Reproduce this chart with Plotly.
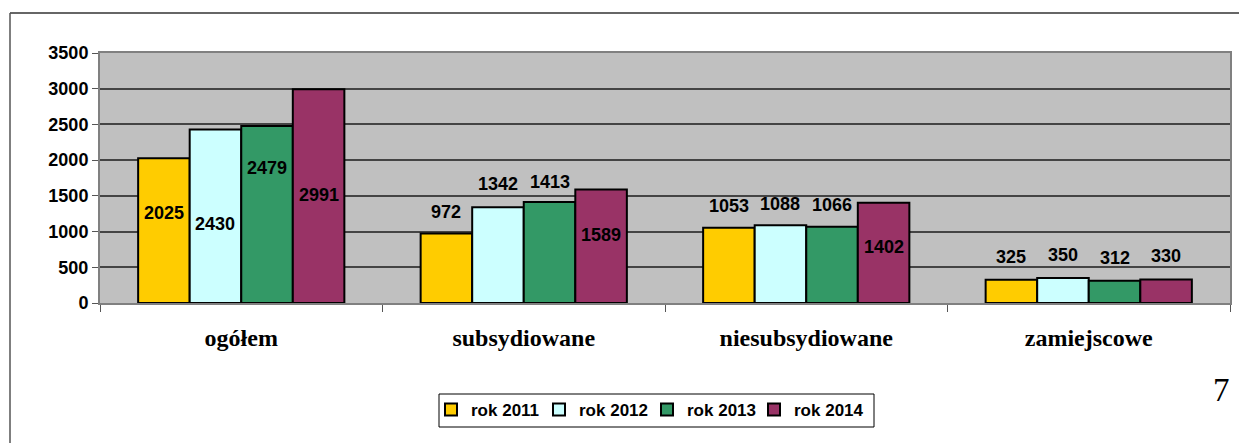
import plotly.graph_objects as go

categories = ["ogółem", "subsydiowane", "niesubsydiowane", "zamiejscowe"]
series_names = ["rok 2011", "rok 2012", "rok 2013", "rok 2014"]
v2011 = [2025, 972, 1053, 325]
v2012 = [2430, 1342, 1088, 350]
v2013 = [2479, 1413, 1066, 312]
v2014 = [2991, 1589, 1402, 330]
# vertical placement of the value labels (data units), as in the reference
lab2011 = [1260, 1274, 1358, 644]
lab2012 = [1106, 1666, 1386, 672]
lab2013 = [1890, 1694, 1372, 630]
lab2014 = [1512, 952, 784, 658]
y_ticks = [0, 500, 1000, 1500, 2000, 2500, 3000, 3500]

colors = ["#FFCC00", "#CCFFFF", "#339966", "#993366"]
values = [v2011, v2012, v2013, v2014]
labels_y = [lab2011, lab2012, lab2013, lab2014]

OFF = 8  # page body margin
W, H = 1247 - OFF, 443 - OFF
L, R, T, B = 100 - OFF, 17, 53 - OFF, 140
pw, ph = W - L - R, H - T - B


def px_to_paper_x(px):
    return (px - OFF - L) / pw


def px_to_paper_y(py):
    return (T + ph - (py - OFF)) / ph


legend_ids = ["legend", "legend2", "legend3", "legend4"]
legend_sym_px = [453, 561, 669, 776]  # legend anchor positions (layout)

fig = go.Figure()
for name, vals, col, lid in zip(series_names, values, colors, legend_ids):
    fig.add_trace(go.Bar(
        x=categories, y=vals, name=name, legend=lid,
        marker=dict(color=col, line=dict(color="black", width=2)),
    ))

bar_px = pw / len(categories) * (1 - 0.27) / len(series_names)
annotations = []
for si, (vals, ly) in enumerate(zip(values, labels_y)):
    shift = (si - (len(series_names) - 1) / 2) * bar_px
    for c, v, yy in zip(categories, vals, ly):
        annotations.append(dict(
            x=c, y=yy, xref="x", yref="y", text=str(v), showarrow=False,
            xshift=shift, font=dict(family="Liberation Sans, Arial", size=18, color="black", weight="bold"),
        ))

annotations.append(dict(
    x=px_to_paper_x(1232), y=px_to_paper_y(410), xref="paper", yref="paper",
    text="7", showarrow=False, font=dict(family="Liberation Serif, Times New Roman", size=33, color="black"),
))

legend_common = dict(
    orientation="h", yanchor="middle", xanchor="left",
    borderwidth=0, bgcolor="rgba(0,0,0,0)",
    font=dict(family="Liberation Sans, Arial", size=17, color="black", weight="bold"),
    itemwidth=30,
)
legends = {}
for lid, sx in zip(legend_ids, legend_sym_px):
    legends[lid] = dict(legend_common, x=px_to_paper_x(sx - 22), y=px_to_paper_y(410))

fig.update_layout(
    width=W, height=H,
    margin=dict(l=L, r=R, t=T, b=B),
    paper_bgcolor="white", plot_bgcolor="#C0C0C0",
    barmode="group", bargap=0.27, bargroupgap=0,
    showlegend=True,
    annotations=annotations,
    shapes=[
        dict(type="line", xref="paper", yref="paper",
             x0=px_to_paper_x(10), x1=px_to_paper_x(1247),
             y0=px_to_paper_y(13), y1=px_to_paper_y(13),
             line=dict(color="#333333", width=1.5)),
        dict(type="line", xref="paper", yref="paper",
             x0=px_to_paper_x(10), x1=px_to_paper_x(10),
             y0=px_to_paper_y(13), y1=px_to_paper_y(443),
             line=dict(color="#555555", width=1.5)),
        dict(type="rect", xref="paper", yref="paper",
             x0=px_to_paper_x(439), x1=px_to_paper_x(874),
             y0=px_to_paper_y(394), y1=px_to_paper_y(427),
             line=dict(color="black", width=1), fillcolor="rgba(0,0,0,0)"),
    ],
    **legends,
)

fig.update_xaxes(
    type="category", showgrid=False,
    showline=True, linecolor="#808080", linewidth=2, mirror=True,
    ticks="outside", tickson="boundaries", ticklen=7, tickcolor="#555555",
    tickfont=dict(family="Liberation Serif, Times New Roman", size=24, color="black", weight="bold"),
    ticklabelstandoff=12,
)
fig.update_yaxes(
    range=[0, 3500], tickvals=y_ticks,
    showgrid=True, gridcolor="#444444", gridwidth=1.5,
    showline=True, linecolor="#808080", linewidth=2, mirror=True,
    ticks="outside", ticklen=6, tickcolor="#555555",
    tickfont=dict(family="Liberation Sans, Arial", size=18, color="black", weight="bold"),
    zeroline=False,
)

fig.write_html("out.html")
